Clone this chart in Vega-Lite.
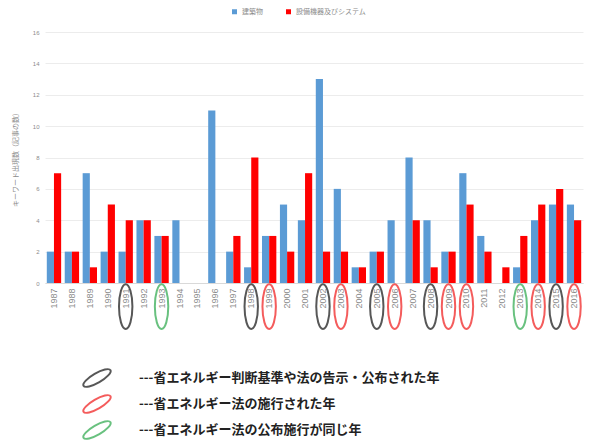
{
  "$schema": "https://vega.github.io/schema/vega-lite/v6.json",
  "width": 538,
  "height": 251,
  "autosize": {"type": "none"},
  "padding": {"left": 45, "top": 32, "right": 6, "bottom": 158},
  "background": "white",
  "config": {
    "font": "Noto Sans CJK JP",
    "view": {"stroke": null},
    "axisY": {
      "values": [0, 2, 4, 6, 8, 10, 12, 14, 16],
      "labelOverlap": false,
      "labelFontSize": 6, "labelColor": "#8c8c8c", "labelFont": "Liberation Sans",
      "titleFontSize": 7, "titleColor": "#8c8c8c", "titleFontWeight": "normal", "titlePadding": 14,
      "domain": false, "ticks": false, "labelPadding": 6,
      "gridColor": "#ececec"
    }
  },
  "datasets": {
    "counts": [
      {"year": "1987", "series": "建築物", "value": 2}, {"year": "1987", "series": "設備機器及びシステム", "value": 7},
      {"year": "1988", "series": "建築物", "value": 2}, {"year": "1988", "series": "設備機器及びシステム", "value": 2},
      {"year": "1989", "series": "建築物", "value": 7}, {"year": "1989", "series": "設備機器及びシステム", "value": 1},
      {"year": "1990", "series": "建築物", "value": 2}, {"year": "1990", "series": "設備機器及びシステム", "value": 5},
      {"year": "1991", "series": "建築物", "value": 2}, {"year": "1991", "series": "設備機器及びシステム", "value": 4},
      {"year": "1992", "series": "建築物", "value": 4}, {"year": "1992", "series": "設備機器及びシステム", "value": 4},
      {"year": "1993", "series": "建築物", "value": 3}, {"year": "1993", "series": "設備機器及びシステム", "value": 3},
      {"year": "1994", "series": "建築物", "value": 4}, {"year": "1994", "series": "設備機器及びシステム", "value": 0},
      {"year": "1995", "series": "建築物", "value": 0}, {"year": "1995", "series": "設備機器及びシステム", "value": 0},
      {"year": "1996", "series": "建築物", "value": 11}, {"year": "1996", "series": "設備機器及びシステム", "value": 0},
      {"year": "1997", "series": "建築物", "value": 2}, {"year": "1997", "series": "設備機器及びシステム", "value": 3},
      {"year": "1998", "series": "建築物", "value": 1}, {"year": "1998", "series": "設備機器及びシステム", "value": 8},
      {"year": "1999", "series": "建築物", "value": 3}, {"year": "1999", "series": "設備機器及びシステム", "value": 3},
      {"year": "2000", "series": "建築物", "value": 5}, {"year": "2000", "series": "設備機器及びシステム", "value": 2},
      {"year": "2001", "series": "建築物", "value": 4}, {"year": "2001", "series": "設備機器及びシステム", "value": 7},
      {"year": "2002", "series": "建築物", "value": 13}, {"year": "2002", "series": "設備機器及びシステム", "value": 2},
      {"year": "2003", "series": "建築物", "value": 6}, {"year": "2003", "series": "設備機器及びシステム", "value": 2},
      {"year": "2004", "series": "建築物", "value": 1}, {"year": "2004", "series": "設備機器及びシステム", "value": 1},
      {"year": "2005", "series": "建築物", "value": 2}, {"year": "2005", "series": "設備機器及びシステム", "value": 2},
      {"year": "2006", "series": "建築物", "value": 4}, {"year": "2006", "series": "設備機器及びシステム", "value": 0},
      {"year": "2007", "series": "建築物", "value": 8}, {"year": "2007", "series": "設備機器及びシステム", "value": 4},
      {"year": "2008", "series": "建築物", "value": 4}, {"year": "2008", "series": "設備機器及びシステム", "value": 1},
      {"year": "2009", "series": "建築物", "value": 2}, {"year": "2009", "series": "設備機器及びシステム", "value": 2},
      {"year": "2010", "series": "建築物", "value": 7}, {"year": "2010", "series": "設備機器及びシステム", "value": 5},
      {"year": "2011", "series": "建築物", "value": 3}, {"year": "2011", "series": "設備機器及びシステム", "value": 2},
      {"year": "2012", "series": "建築物", "value": 0}, {"year": "2012", "series": "設備機器及びシステム", "value": 1},
      {"year": "2013", "series": "建築物", "value": 1}, {"year": "2013", "series": "設備機器及びシステム", "value": 3},
      {"year": "2014", "series": "建築物", "value": 4}, {"year": "2014", "series": "設備機器及びシステム", "value": 5},
      {"year": "2015", "series": "建築物", "value": 5}, {"year": "2015", "series": "設備機器及びシステム", "value": 6},
      {"year": "2016", "series": "建築物", "value": 5}, {"year": "2016", "series": "設備機器及びシステム", "value": 4}
    ],
    "marked": [
      {"year": "1991", "kind": "---省エネルギー判断基準や法の告示・公布された年"},
      {"year": "1998", "kind": "---省エネルギー判断基準や法の告示・公布された年"},
      {"year": "2002", "kind": "---省エネルギー判断基準や法の告示・公布された年"},
      {"year": "2005", "kind": "---省エネルギー判断基準や法の告示・公布された年"},
      {"year": "2008", "kind": "---省エネルギー判断基準や法の告示・公布された年"},
      {"year": "2015", "kind": "---省エネルギー判断基準や法の告示・公布された年"},
      {"year": "1999", "kind": "---省エネルギー法の施行された年"},
      {"year": "2003", "kind": "---省エネルギー法の施行された年"},
      {"year": "2006", "kind": "---省エネルギー法の施行された年"},
      {"year": "2009", "kind": "---省エネルギー法の施行された年"},
      {"year": "2010", "kind": "---省エネルギー法の施行された年"},
      {"year": "2014", "kind": "---省エネルギー法の施行された年"},
      {"year": "2016", "kind": "---省エネルギー法の施行された年"},
      {"year": "1993", "kind": "---省エネルギー法の公布施行が同じ年"},
      {"year": "2013", "kind": "---省エネルギー法の公布施行が同じ年"}
    ]
  },
  "layer": [
    {
      "data": {"name": "counts"},
      "mark": {"type": "bar"},
      "encoding": {
        "x": {
          "field": "year", "type": "nominal", "title": null,
          "scale": {"paddingInner": 0.2, "paddingOuter": 0.1},
          "axis": {
            "labelAngle": -90, "labelFontSize": 9, "labelColor": "#8c8c8c",
            "labelFont": "Liberation Sans", "labelPadding": 5,
            "ticks": false, "domainColor": "#d9d9d9", "grid": false
          }
        },
        "xOffset": {"field": "series", "type": "nominal", "sort": ["建築物", "設備機器及びシステム"], "scale": {"paddingInner": 0}},
        "y": {
          "field": "value", "type": "quantitative",
          "title": "キーワード出現数（記事の数）",
          "scale": {"domain": [0, 16], "nice": false}
        },
        "color": {
          "field": "series", "type": "nominal",
          "scale": {"domain": ["建築物", "設備機器及びシステム"], "range": ["#5b9bd5", "#ff0000"]},
          "legend": {
            "title": null, "orient": "none", "direction": "horizontal",
            "legendX": 186, "legendY": -24,
            "symbolType": "square", "symbolSize": 25,
            "labelFontSize": 7, "labelColor": "#8c8c8c", "columnPadding": 22
          }
        }
      }
    },
    {
      "data": {"name": "marked"},
      "mark": {
        "type": "point", "filled": false, "strokeWidth": 2, "size": 2000,
        "shape": "M 0 -1 A 0.3 1 0 1 1 0 1 A 0.3 1 0 1 1 0 -1 Z"
      },
      "encoding": {
        "x": {"field": "year", "type": "nominal"},
        "y": {"datum": -1.5, "title": "キーワード出現数（記事の数）"},
        "stroke": {
          "field": "kind", "type": "nominal",
          "scale": {
            "domain": [
              "---省エネルギー判断基準や法の告示・公布された年",
              "---省エネルギー法の施行された年",
              "---省エネルギー法の公布施行が同じ年"
            ],
            "range": ["#111111", "#f01818", "#2aa84a"]
          },
          "legend": {
            "title": null, "orient": "none", "direction": "vertical",
            "legendX": 42, "legendY": 336,
            "symbolType": "M -1.56 0.9 A 1.8 0.55 -30 1 1 1.56 -0.9 A 1.8 0.55 -30 1 1 -1.56 0.9 Z",
            "symbolSize": 300, "symbolStrokeWidth": 2,
            "labelFontSize": 13, "labelFontWeight": "bold", "labelColor": "#222222",
            "labelOffset": 32, "rowPadding": 0, "labelLimit": 500,
            "encode": {
              "symbols": {
                "update": {
                  "shape": {"value": "M -1.56 0.9 A 1.8 0.55 -30 1 1 1.56 -0.9 A 1.8 0.55 -30 1 1 -1.56 0.9 Z"},
                  "strokeWidth": {"value": 2},
                  "fill": {"value": "transparent"}
                }
              }
            }
          }
        }
      }
    }
  ]
}
